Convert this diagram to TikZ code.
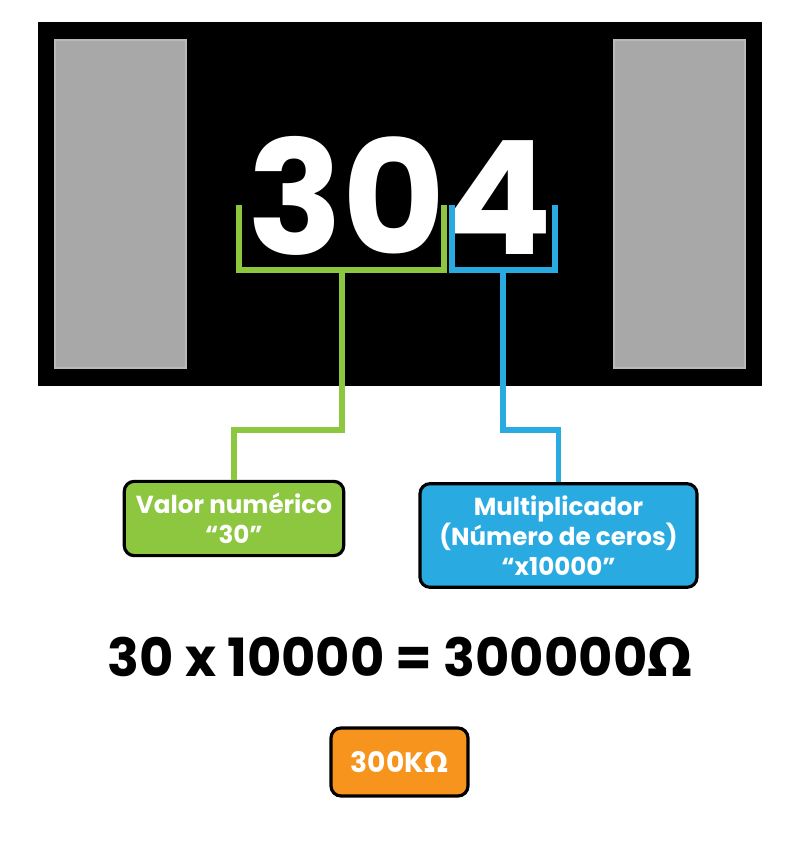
\documentclass[tikz,border=0pt]{standalone}
\usepackage{fontspec}
\setmainfont{Poppins}
\newfontfamily\omegafont{DejaVu Sans}
\usepackage{tikz}
\usetikzlibrary{positioning}
\definecolor{valgreen}{HTML}{8DC63F}
\definecolor{multblue}{HTML}{29ABE2}
\definecolor{resorange}{HTML}{F7941D}
\definecolor{padgray}{HTML}{A8A8A8}
\newcommand{\ohm}{{\omegafont\bfseries Ω}}

\begin{document}
\begin{tikzpicture}[
  pad/.style={rectangle, fill=padgray, draw=padgray!80!white, line width=0.6pt, minimum width=1.31cm, minimum height=3.28cm},
  label/.style={draw=black, line width=0.9pt, rounded corners=0.1cm, align=center, text=white, font=\bfseries\fontsize{7}{8.6}\selectfont},
  bracket/.style={line width=1.7pt},
  lead/.style={line width=1.7pt}
]
\useasboundingbox (0,0) rectangle (8,8.6);
% chip body and terminals
\node[rectangle, fill=black, minimum width=7.24cm, minimum height=3.64cm] (chip) at (4.0,6.56) {};
\node[pad] (padL) at (1.205,6.56) {};
\node[pad] (padR) at (6.795,6.56) {};
\node[text=white, font=\bfseries\fontsize{45}{45}\selectfont] (code) at (4.0,6.64) {304};
% brackets under the digits
\draw[bracket, valgreen] (2.39,6.55) -- (2.39,5.90) -- (4.44,5.90) -- (4.44,6.55);
\draw[bracket, multblue] (4.52,6.55) -- (4.52,5.90) -- (5.55,5.90) -- (5.55,6.55);
\coordinate (gstem) at (3.42,5.90);
\coordinate (bstem) at (5.03,5.90);
% labels
\node[label, fill=valgreen, minimum width=2.18cm, minimum height=0.65cm] (valor) at (2.34,3.415) {Valor numérico\\“30”};
\node[label, fill=multblue, minimum width=2.77cm, minimum height=0.99cm] (mult) at (5.585,3.245) {Multiplicador\\(Número de ceros)\\“x10000”};
\draw[lead, valgreen] (gstem) -- ++(0,-1.60) -| (valor.north);
\draw[lead, multblue] (bstem) -- ++(0,-1.60) -| (mult.north);
% result
\node[font=\bfseries\fontsize{15}{17}\selectfont] (eq) at (4.0,2.03) {30 x 10000 = 300000\ohm};
\node[label, fill=resorange, minimum width=1.37cm, minimum height=0.68cm, font=\bfseries\fontsize{8}{9}\selectfont] (res) at (3.995,0.98) {300K\ohm};
\end{tikzpicture}
\end{document}
